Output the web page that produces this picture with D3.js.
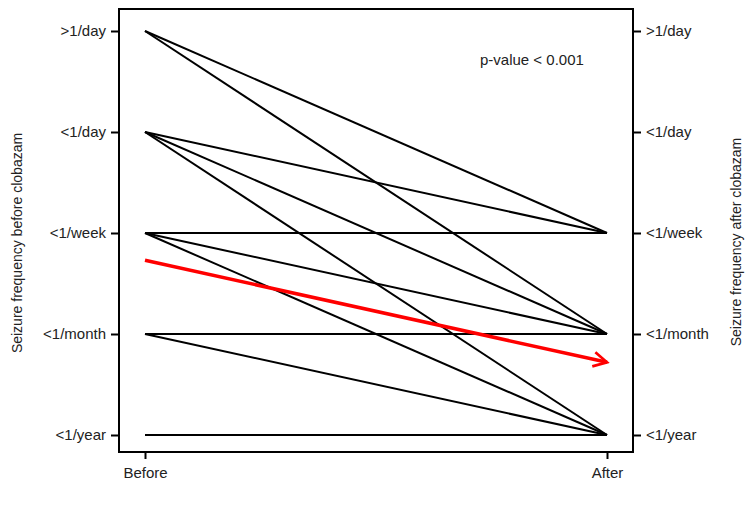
<!DOCTYPE html>
<html>
<head>
<meta charset="utf-8">
<script src="https://cdn.jsdelivr.net/npm/d3@7"></script>
<style>
  body { margin: 0; background: #fff; }
  text { font-family: "Liberation Sans", Arial, sans-serif; }
</style>
</head>
<body>
<div id="chart"></div>
<script>
// frequency categories, lowest to highest
const levels = ["<1/year", "<1/month", "<1/week", "<1/day", ">1/day"];
const timepoints = ["Before", "After"];

// patient transitions (before level -> after level)
const beforeLevel = [">1/day", ">1/day", "<1/day", "<1/day", "<1/day", "<1/week", "<1/week", "<1/week", "<1/month", "<1/month", "<1/year"];
const afterLevel = ["<1/week", "<1/month", "<1/week", "<1/month", "<1/year", "<1/week", "<1/month", "<1/year", "<1/month", "<1/year", "<1/year"];

// mean score (0 = <1/year ... 4 = >1/day)
const meanScore = [1.73, 0.72];

const W = 750, H = 515;
const margin = { top: 9, right: 117, bottom: 63, left: 119 };

const svg = d3.select("#chart").append("svg")
  .attr("width", W)
  .attr("height", H);

const x = d3.scalePoint()
  .domain(timepoints)
  .range([145, 607]);

const y = d3.scalePoint()
  .domain(levels)
  .range([435, 31]);

const yNum = d3.scaleLinear()
  .domain([0, levels.length - 1])
  .range([435, 31]);

const x0 = margin.left, x1 = W - margin.right, y0 = margin.top, y1 = H - margin.bottom;

// frame
svg.append("rect")
  .attr("x", x0).attr("y", y0)
  .attr("width", x1 - x0).attr("height", y1 - y0)
  .attr("fill", "none").attr("stroke", "#000").attr("stroke-width", 2);

// axes
const axL = svg.append("g")
  .attr("transform", `translate(${x0},0)`)
  .call(d3.axisLeft(y).tickSize(8).tickPadding(5));
const axR = svg.append("g")
  .attr("transform", `translate(${x1},0)`)
  .call(d3.axisRight(y).tickSize(8).tickPadding(5));
const axB = svg.append("g")
  .attr("transform", `translate(0,${y1})`)
  .call(d3.axisBottom(x).tickSize(7).tickPadding(8));

[axL, axR, axB].forEach(a => {
  a.select(".domain").remove();
  a.selectAll("line").attr("stroke", "#000").attr("stroke-width", 2);
  a.selectAll("text")
    .style("font-size", "15px")
    .style("font-family", "'Liberation Sans', Arial, sans-serif")
    .attr("fill", "#222");
});

// patient lines
const pairs = beforeLevel.map((b, i) => ({ b, a: afterLevel[i] }));
svg.append("g").selectAll("line")
  .data(pairs)
  .join("line")
  .attr("x1", x("Before"))
  .attr("y1", d => y(d.b))
  .attr("x2", x("After"))
  .attr("y2", d => y(d.a))
  .attr("stroke", "#000")
  .attr("stroke-width", 2);

// mean arrow
svg.append("defs").append("marker")
  .attr("id", "arrow")
  .attr("viewBox", "0 0 20 20")
  .attr("refX", 17).attr("refY", 10)
  .attr("markerWidth", 18).attr("markerHeight", 18)
  .attr("markerUnits", "userSpaceOnUse")
  .attr("orient", "auto")
  .append("path")
  .attr("d", "M2,2 L17,10 L2,18")
  .attr("fill", "none")
  .attr("stroke", "#f00")
  .attr("stroke-width", 3);

svg.append("line")
  .attr("x1", x("Before"))
  .attr("y1", yNum(meanScore[0]))
  .attr("x2", x("After"))
  .attr("y2", yNum(meanScore[1]))
  .attr("stroke", "#f00")
  .attr("stroke-width", 3.5)
  .attr("marker-end", "url(#arrow)");

// annotation
svg.append("text")
  .attr("x", 480).attr("y", 65)
  .style("font-size", "15px")
  .attr("fill", "#222")
  .text("p-value < 0.001");

// axis titles
svg.append("text")
  .attr("transform", `translate(22,243) rotate(-90)`)
  .attr("text-anchor", "middle")
  .style("font-size", "14px")
  .attr("fill", "#222")
  .text("Seizure frequency before clobazam");

svg.append("text")
  .attr("transform", `translate(741,242) rotate(-90)`)
  .attr("text-anchor", "middle")
  .style("font-size", "14px")
  .attr("fill", "#222")
  .text("Seizure frequency after clobazam");
</script>
</body>
</html>
